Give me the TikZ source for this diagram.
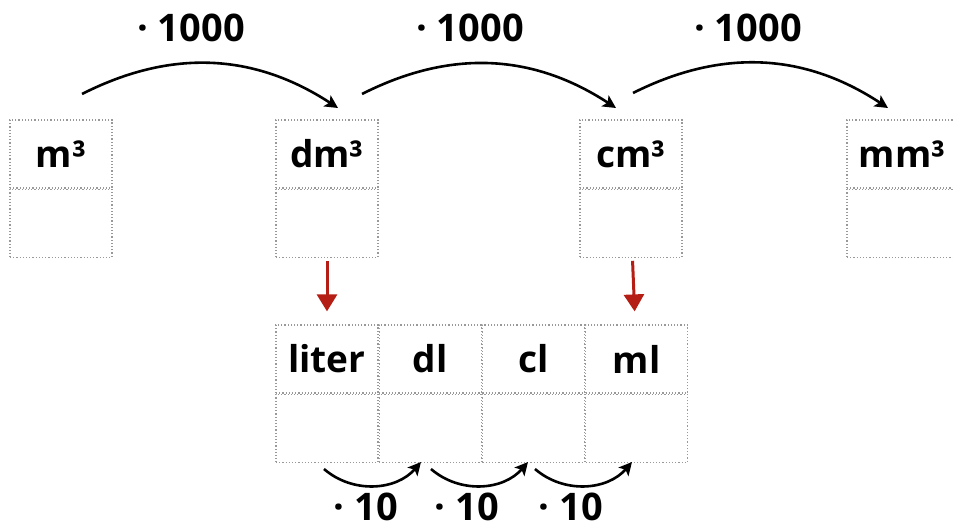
\documentclass[tikz,border=0pt]{standalone}
\usepackage{fontspec}
\setmainfont{Open Sans}
\usepackage{xcolor}
\usetikzlibrary{positioning,arrows.meta}
\definecolor{darkred}{RGB}{180,30,20}

\begin{document}
\begin{tikzpicture}[x=1pt,y=-1pt,
	cell/.style={draw=gray!80,dotted,line width=1.2pt,minimum width=102pt,minimum height=68pt,inner sep=0pt,font=\fontsize{37}{44}\selectfont\bfseries},
	lab/.style={font=\fontsize{38}{44}\selectfont\bfseries,inner sep=0pt},
	conv/.style={-{Stealth[length=13pt,width=13pt,inset=3pt]},line width=2.6pt},
	down/.style={-{Triangle[length=17pt,width=20pt]},line width=3pt,darkred,shorten <=3pt,shorten >=13pt}]
	\useasboundingbox (0,0) rectangle (953,526);

	\node[cell] (m3) at (61,154) {m³};
	\node[cell,below=0pt of m3] (m3b) {};
	\node[cell] (dm3) at (327,154) {dm³};
	\node[cell,below=0pt of dm3] (dm3b) {};
	\node[cell] (cm3) at (631,154) {cm³};
	\node[cell,below=0pt of cm3] (cm3b) {};
	\node[cell,minimum width=110pt] (mm3) at (902,154) {mm³};
	\node[cell,minimum width=110pt,below=0pt of mm3] (mm3b) {};

	\node[cell] (liter) at (327,359) {liter};
	\node[cell,right=0pt of liter] (dl) {dl};
	\node[cell,right=0pt of dl] (cl) {cl};
	\node[cell,right=0pt of cl] (ml) {ml};
	\node[cell,below=0pt of liter] (literb) {};
	\node[cell,below=0pt of dl] (dlb) {};
	\node[cell,below=0pt of cl] (clb) {};
	\node[cell,below=0pt of ml] (mlb) {};

	\node[lab] (k1) at (191,28) {· 1000};
	\node[lab] (k2) at (470,28) {· 1000};
	\node[lab] (k3) at (748,28) {· 1000};
	\node[lab] (z1) at (366,507) {· 10};
	\node[lab] (z2) at (467,507) {· 10};
	\node[lab] (z3) at (571,507) {· 10};

	\coordinate (a1) at (82,94);   \coordinate (b1) at (338,108);
	\coordinate (a2) at (362,94);  \coordinate (b2) at (616,108);
	\coordinate (a3) at (633,93);  \coordinate (b3) at (888,108);
	\coordinate (c1) at (324,469); \coordinate (d1) at (421,462);
	\coordinate (c2) at (431,469); \coordinate (d2) at (528,462);
	\coordinate (c3) at (535,469); \coordinate (d3) at (632,462);

	\draw[conv] (a1) to[bend left=30] (b1);
	\draw[conv] (a2) to[bend left=30] (b2);
	\draw[conv] (a3) to[bend left=30] (b3);
	\draw[conv] (c1) to[bend right=45] (d1);
	\draw[conv] (c2) to[bend right=45] (d2);
	\draw[conv] (c3) to[bend right=45] (d3);

	\draw[down] (dm3b) -- (liter);
	\draw[down] (cm3b) -- (ml);
\end{tikzpicture}
\end{document}
